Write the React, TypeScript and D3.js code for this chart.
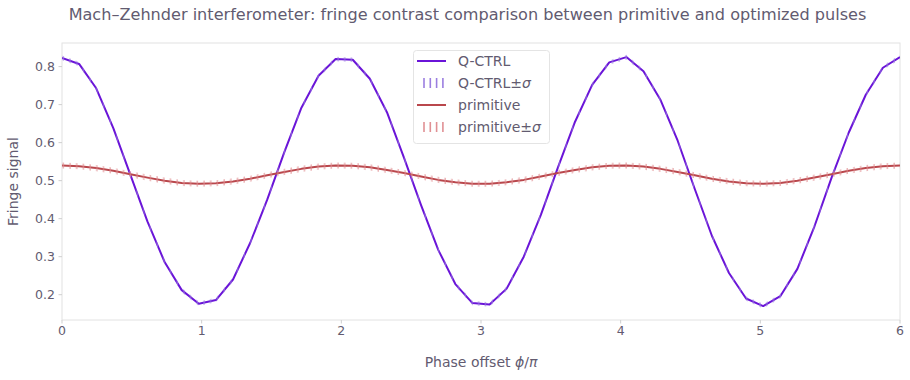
import React from "react";
import * as d3 from "d3";

const phase: number[] = d3.range(50).map((i) => (6 * i) / 49);

const qctrl: number[] = [
  0.823, 0.807, 0.743, 0.638, 0.515, 0.392, 0.286, 0.212, 0.176, 0.186,
  0.240, 0.336, 0.450, 0.575, 0.692, 0.776, 0.820, 0.818, 0.768, 0.680,
  0.560, 0.435, 0.318, 0.228, 0.178, 0.174, 0.216, 0.300, 0.410, 0.535,
  0.655, 0.752, 0.811, 0.825, 0.788, 0.712, 0.605, 0.478, 0.355, 0.257,
  0.190, 0.170, 0.196, 0.268, 0.380, 0.508, 0.626, 0.726, 0.797, 0.825,
];

const primitive: number[] = [
  0.540, 0.538, 0.533, 0.526, 0.517, 0.508, 0.500, 0.494, 0.492, 0.493,
  0.498, 0.505, 0.514, 0.523, 0.531, 0.537, 0.540, 0.539, 0.535, 0.528,
  0.520, 0.511, 0.502, 0.496, 0.492, 0.492, 0.496, 0.502, 0.511, 0.520,
  0.528, 0.535, 0.539, 0.540, 0.537, 0.531, 0.523, 0.514, 0.505, 0.498,
  0.493, 0.492, 0.494, 0.500, 0.508, 0.517, 0.526, 0.533, 0.538, 0.540,
];

const qSigma = 0.006;
const pSigma = 0.008;

const xTicks: number[] = [0, 1, 2, 3, 4, 5, 6];
const yTicks: number[] = [0.2, 0.3, 0.4, 0.5, 0.6, 0.7, 0.8];

const legendItems = [
  { label: "Q-CTRL", kind: "line", color: "#6a14d8" },
  { label: "Q-CTRL±", kind: "hatch", color: "#9b7ee0" },
  { label: "primitive", kind: "line", color: "#b9474c" },
  { label: "primitive±", kind: "hatch", color: "#e09094" },
];

const W = 910;
const H = 380;
const left = 62;
const right = 900;
const top = 43;
const bottom = 320;
const textColor = "#625b70";
const spineColor = "#e2e2e2";
const font = "'DejaVu Sans', sans-serif";

export default function App() {
  const x = d3.scaleLinear().domain([0, 6]).range([left, right]);
  const y = d3.scaleLinear().domain([0.2, 0.8]).range([294.7, 66.6]);

  const line = d3
    .line<number>()
    .x((_, i) => x(phase[i]))
    .y((d) => y(d));

  const band = (vals: number[], s: number) =>
    d3
      .area<number>()
      .x((_, i) => x(phase[i]))
      .y0((d) => y(d - s))
      .y1((d) => y(d + s))(vals) || "";

  return (
    <svg
      width={W}
      height={H}
      style={{ position: "absolute", left: 0, top: 0, background: "#fff" }}
      fontFamily={font}
    >
      <defs>
        <pattern id="hq" patternUnits="userSpaceOnUse" width={6.7} height={10}>
          <line x1={3} y1={0} x2={3} y2={10} stroke="#9b7ee0" strokeWidth={1} />
        </pattern>
        <pattern id="hp" patternUnits="userSpaceOnUse" width={6.7} height={10}>
          <line x1={3} y1={0} x2={3} y2={10} stroke="#e08c90" strokeWidth={1} />
        </pattern>
        <clipPath id="plotclip">
          <rect x={left} y={top} width={right - left} height={bottom - top} />
        </clipPath>
      </defs>

      {/* title */}
      <text
        x={467.5}
        y={20}
        textAnchor="middle"
        fontSize={16.1}
        fill={textColor}
      >
        Mach–Zehnder interferometer: fringe contrast comparison between primitive and optimized pulses
      </text>

      {/* frame */}
      <rect
        x={left}
        y={top}
        width={right - left}
        height={bottom - top}
        fill="none"
        stroke={spineColor}
        strokeWidth={1}
      />

      {/* x ticks */}
      {xTicks.map((t) => (
        <g key={"x" + t}>
          <line x1={x(t)} x2={x(t)} y1={bottom} y2={bottom + 3.5} stroke="#cfcfcf" />
          <text x={x(t)} y={bottom + 15} textAnchor="middle" fontSize={12.5} fill={textColor}>
            {t}
          </text>
        </g>
      ))}
      {/* y ticks */}
      {yTicks.map((t) => (
        <g key={"y" + t}>
          <line x1={left - 3.5} x2={left} y1={y(t)} y2={y(t)} stroke="#cfcfcf" />
          <text
            x={left - 7}
            y={y(t)}
            dy="0.35em"
            textAnchor="end"
            fontSize={12.5}
            fill={textColor}
          >
            {t.toFixed(1)}
          </text>
        </g>
      ))}

      {/* axis labels */}
      <text x={481} y={367} textAnchor="middle" fontSize={14} fill={textColor}>
        Phase offset <tspan fontStyle="italic">ϕ</tspan>/<tspan fontStyle="italic">π</tspan>
      </text>
      <text
        transform={`translate(18,${(top + bottom) / 2}) rotate(-90)`}
        textAnchor="middle"
        fontSize={14}
        fill={textColor}
      >
        Fringe signal
      </text>

      <g clipPath="url(#plotclip)">
        <path d={line(qctrl) || ""} fill="none" stroke="#6a14d8" strokeWidth={2} strokeLinejoin="round" />
        <path d={band(qctrl, qSigma)} fill="url(#hq)" stroke="none" />
        <path d={line(primitive) || ""} fill="none" stroke="#b9474c" strokeWidth={2} strokeLinejoin="round" />
        <path d={band(primitive, pSigma)} fill="url(#hp)" stroke="none" />
      </g>

      {/* legend */}
      <g>
        <rect
          x={413.5}
          y={50.5}
          width={136}
          height={93}
          rx={3}
          fill="#fff"
          fillOpacity={0.85}
          stroke="#e4e4e4"
        />
        {legendItems.map((it, i) => {
          const cy = 61 + i * 22;
          return (
            <g key={it.label}>
              {it.kind === "line" ? (
                <line x1={417} x2={446} y1={cy} y2={cy} stroke={it.color} strokeWidth={2} />
              ) : (
                [0, 1, 2, 3].map((k) => (
                  <line
                    key={k}
                    x1={424 + k * 6.3}
                    x2={424 + k * 6.3}
                    y1={cy - 5}
                    y2={cy + 5}
                    stroke={it.color}
                    strokeWidth={1.6}
                  />
                ))
              )}
              <text x={458} y={cy} dy="0.35em" fontSize={14} fill={textColor}>
                {it.label}
                {it.kind === "hatch" ? <tspan fontStyle="italic">σ</tspan> : null}
              </text>
            </g>
          );
        })}
      </g>
    </svg>
  );
}
